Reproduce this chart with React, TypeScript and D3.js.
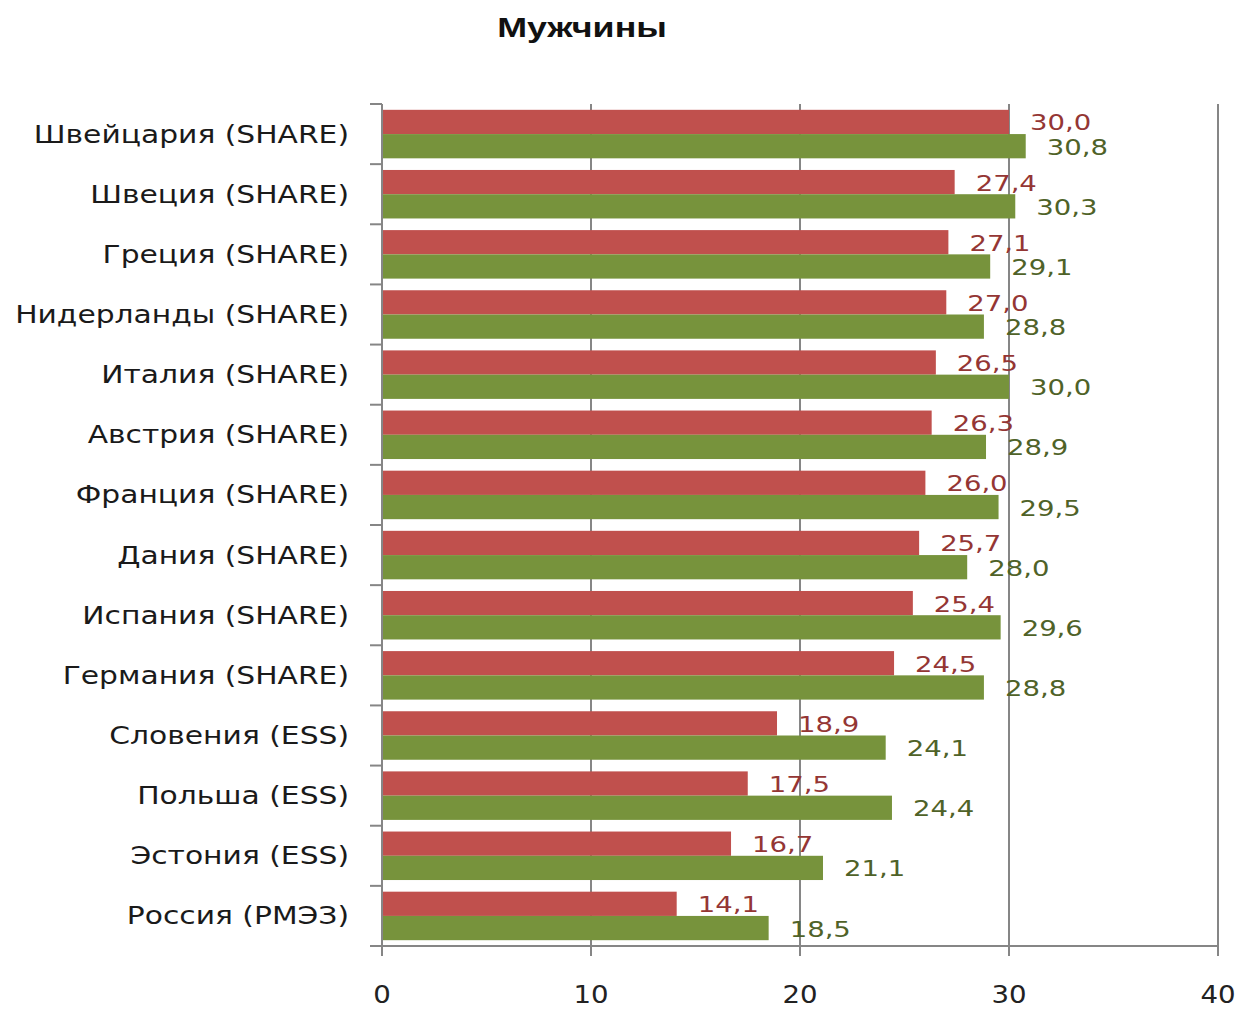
import * as d3 from 'd3'

const categories = [
  'Швейцария (SHARE)',
  'Швеция (SHARE)',
  'Греция (SHARE)',
  'Нидерланды (SHARE)',
  'Италия (SHARE)',
  'Австрия (SHARE)',
  'Франция (SHARE)',
  'Дания (SHARE)',
  'Испания (SHARE)',
  'Германия (SHARE)',
  'Словения (ESS)',
  'Польша (ESS)',
  'Эстония (ESS)',
  'Россия (РМЭЗ)',
]

const redValues = [30.0, 27.4, 27.1, 27.0, 26.5, 26.3, 26.0, 25.7, 25.4, 24.5, 18.9, 17.5, 16.7, 14.1]
const greenValues = [30.8, 30.3, 29.1, 28.8, 30.0, 28.9, 29.5, 28.0, 29.6, 28.8, 24.1, 24.4, 21.1, 18.5]

const xTicks = [0, 10, 20, 30, 40]
const title = 'Мужчины'

const series = [
  { key: 'red', values: redValues, fill: '#C0504D', text: '#943634' },
  { key: 'green', values: greenValues, fill: '#77933C', text: '#4F6228' },
]

const W = 1239
const H = 1010
const FONT = '"DejaVu Sans", Verdana, sans-serif'

const fmt = (v: number) => v.toFixed(1).replace('.', ',')

export default function App() {
  const x = d3.scaleLinear().domain([0, 40]).range([382, 1218])
  const y = d3.scaleBand<string>().domain(categories).range([104, 946]).padding(0)
  const y1 = d3.scaleBand<string>()
    .domain(series.map(s => s.key))
    .range([0, y.bandwidth()])
    .paddingInner(0)
    .paddingOuter(0.24)

  const [yTop, yBot] = y.range()

  return (
    <div style={{ position: 'absolute', left: 0, top: 0 }}>
      <svg width={W} height={H} style={{ display: 'block', background: '#fff' }}>
        {/* title */}
        <text
          transform="translate(582,27) scale(1.28,1)"
          textAnchor="middle"
          dominantBaseline="central"
          fontFamily='"Liberation Sans", Arial, sans-serif'
          fontWeight="bold"
          fontSize={28}
          fill="#111"
        >
          {title}
        </text>

        {/* vertical gridlines */}
        {xTicks.slice(1).map(t => (
          <line key={t} x1={x(t)} x2={x(t)} y1={yTop} y2={yBot + 10} stroke="#868686" strokeWidth={2} />
        ))}

        {/* bars */}
        {categories.map((c, i) => (
          <g key={c}>
            {series.map(s => (
              <rect
                key={s.key}
                x={x(0)}
                y={y(c)! + y1(s.key)!}
                width={x(s.values[i]) - x(0)}
                height={y1.bandwidth()}
                fill={s.fill}
              />
            ))}
          </g>
        ))}

        {/* axes */}
        <line x1={x(0)} x2={x(0)} y1={yTop} y2={yBot + 10} stroke="#868686" strokeWidth={2} />
        <line x1={x(0)} x2={x(40)} y1={yBot} y2={yBot} stroke="#868686" strokeWidth={2} />
        {d3.range(categories.length + 1).map(k => {
          const yy = yTop + k * y.step()
          return <line key={k} x1={x(0) - 12} x2={x(0)} y1={yy} y2={yy} stroke="#868686" strokeWidth={2} />
        })}

        {/* x tick labels */}
        {xTicks.map(t => (
          <text
            key={t}
            transform={`translate(${x(t)},995) scale(1.15,1)`}
            textAnchor="middle"
            dominantBaseline="central"
            fontFamily={FONT}
            fontSize={24}
            fill="#222"
          >
            {t}
          </text>
        ))}

        {/* category labels */}
        {categories.map(c => (
          <text
            key={c}
            transform={`translate(349,${y(c)! + y.bandwidth() / 2}) scale(1.24,1)`}
            textAnchor="end"
            dominantBaseline="central"
            fontFamily={FONT}
            fontSize={24}
            fill="#1a1a1a"
          >
            {c}
          </text>
        ))}

        {/* value labels */}
        {categories.map((c, i) =>
          series.map(s => (
            <text
              key={c + s.key}
              transform={`translate(${x(s.values[i]) + 21},${y(c)! + y1(s.key)! + y1.bandwidth() / 2 + 1}) scale(1.25,1)`}
              dominantBaseline="central"
              fontFamily={FONT}
              fontSize={22}
              fill={s.text}
            >
              {fmt(s.values[i])}
            </text>
          ))
        )}
      </svg>
    </div>
  )
}
